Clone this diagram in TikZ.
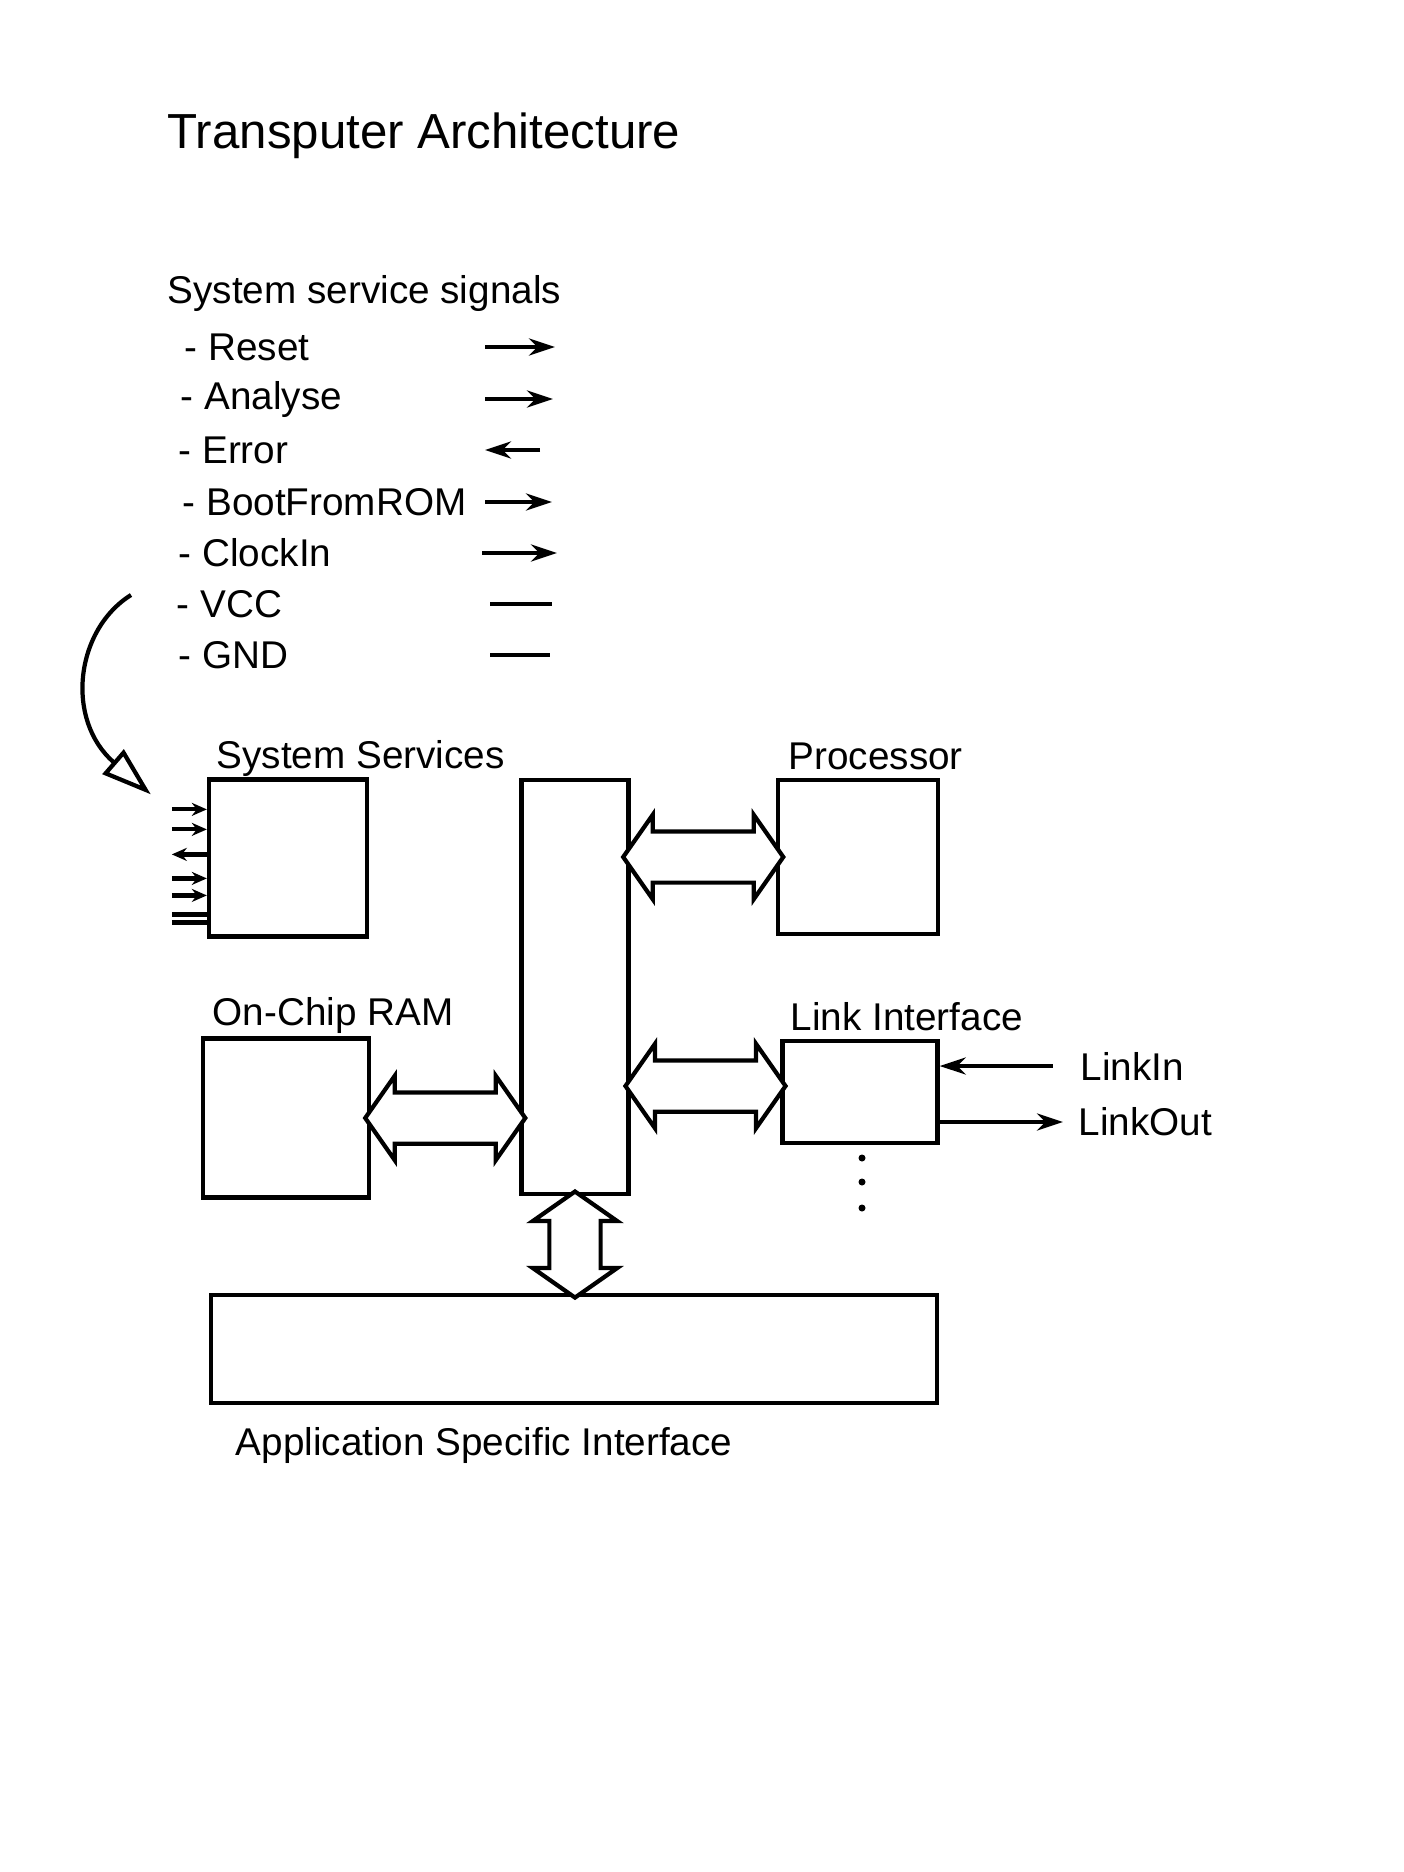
\documentclass[tikz,border=0pt]{standalone}
\usepackage{fontspec}
\setmainfont{Liberation Sans}
\usetikzlibrary{arrows.meta,positioning,calc,shapes.arrows}

\begin{document}
\begin{tikzpicture}[
    x=0.01cm, y=-0.01cm,
    box/.style={draw, line width=1.2pt, inner sep=0pt},
    block/.style={double arrow, draw, line width=1.2pt, fill=white, minimum width=0.8cm, double arrow head extend=0.165cm, double arrow tip angle=110, inner xsep=0pt, inner ysep=0.235cm},
    sigarrow/.style={-{Stealth[length=0.26cm, width=0.17cm]}, line width=1.2pt},
    pin/.style={-{Stealth[length=0.15cm, width=0.13cm]}, line width=1.2pt},
    lbl/.style={anchor=west, inner sep=0pt, font=\fontsize{11}{13}\selectfont},
    heading/.style={anchor=west, inner sep=0pt, font=\fontsize{14}{17}\selectfont}
]
    \fill[white] (0,0) rectangle (1404,1872);
    \useasboundingbox (0,0) rectangle (1404,1872);

    % Title
    \node[heading] (title) at (167,136) {Transputer Architecture};

    % Signal list
    \node[lbl] (signals) at (167,293) {System service signals};
    \node[lbl] (reset) at (184,347) {- Reset};
    \node[lbl] (analyse) at (180,399) {- Analyse};
    \node[lbl] (error) at (178,450) {- Error};
    \node[lbl] (boot) at (182,502) {- BootFromROM};
    \node[lbl] (clockin) at (178,553) {- ClockIn};
    \node[lbl] (vcc) at (176,604) {- VCC};
    \node[lbl] (gnd) at (178,655) {- GND};

    \draw[sigarrow] (485,0 |- reset) -- (555,0 |- reset);
    \draw[sigarrow] (485,0 |- analyse) -- (553,0 |- analyse);
    \draw[sigarrow] (540,0 |- error) -- (485,0 |- error);
    \draw[sigarrow] (485,0 |- boot) -- (552,0 |- boot);
    \draw[sigarrow] (482,0 |- clockin) -- (557,0 |- clockin);
    \draw[line width=1.2pt] (490,0 |- vcc) -- (552,0 |- vcc);
    \draw[line width=1.2pt] (490,0 |- gnd) -- (550,0 |- gnd);

    % Boxes
    \node[box, minimum width=1.58cm, minimum height=1.57cm] (sysserv) at (288,858) {};
    \node[box, minimum width=1.07cm, minimum height=4.14cm] (bus) at (575,987) {};
    \node[box, minimum width=1.60cm, minimum height=1.54cm] (proc) at (858,857) {};
    \node[box, minimum width=1.66cm, minimum height=1.59cm] (ram) at (286,1118) {};
    \node[box, minimum width=1.55cm, minimum height=1.02cm] (link) at (860,1092) {};
    \node[box, minimum width=7.26cm, minimum height=1.08cm] (asi) at (574,1349) {};

    % Box labels
    \node[lbl] (sysservlbl) at (216,758) {System Services};
    \node[lbl] (proclbl) at (788,756) {Processor};
    \node[lbl] (ramlbl) at (212,1015) {On-Chip RAM};
    \node[lbl] (linklbl) at (790,1017) {Link Interface};
    \node[lbl] (asilbl) at (235,1445) {Application Specific Interface};
    \node[lbl] (linkin) at (1080,1066) {LinkIn};
    \node[lbl] (linkout) at (1078,1122) {LinkOut};

    % Signals into System Services
    \coordinate (curvestart) at (131,595);
    \draw[line width=1.2pt, -{Triangle[open, length=0.5cm, width=0.32cm]}] (curvestart) .. controls (75,630) and (65,720) .. ([shift={(-0.56cm,-0.17cm)}]sysserv.north west);
    \draw[pin] ([shift={(-0.35cm,-0.32cm)}]sysserv.north west) -- ([yshift=-0.32cm]sysserv.north west);
    \draw[pin] ([shift={(-0.35cm,-0.52cm)}]sysserv.north west) -- ([yshift=-0.52cm]sysserv.north west);
    \draw[pin] ([yshift=-0.77cm]sysserv.north west) -- ([shift={(-0.35cm,-0.77cm)}]sysserv.north west);
    \draw[pin] ([shift={(-0.35cm,-1.01cm)}]sysserv.north west) -- ([yshift=-1.01cm]sysserv.north west);
    \draw[pin] ([shift={(-0.35cm,-1.18cm)}]sysserv.north west) -- ([yshift=-1.18cm]sysserv.north west);
    \draw[line width=1.2pt] ([shift={(-0.35cm,-1.37cm)}]sysserv.north west) -- ([yshift=-1.37cm]sysserv.north west);
    \draw[line width=1.2pt] ([shift={(-0.35cm,-1.45cm)}]sysserv.north west) -- ([yshift=-1.45cm]sysserv.north west);

    % Bus connections
    \node[block, minimum height=1.6cm] (busproc) at ($(bus.east |- proc.west)!0.5!(proc.west)$) {};
    \node[block, minimum height=1.6cm] (rambus) at ($(ram.east)!0.5!(bus.west |- ram.east)$) {};
    \node[block, minimum height=1.6cm] (buslink) at ($(bus.east |- 0,1086)!0.5!(link.west |- 0,1086)$) {};
    \node[block, minimum height=1.06cm, rotate=90] (busasi) at ($(bus.south)!0.5!(bus.south |- asi.north)$) {};

    % Link lines
    \draw[sigarrow] ([xshift=-0.27cm]linkin.west) -- (link.east |- linkin.west);
    \draw[sigarrow] (link.east |- linkout.west) -- ([xshift=-0.15cm]linkout.west);

    % More links
    \fill (862,1158) circle (0.035cm);
    \fill (862,1182) circle (0.035cm);
    \fill (862,1208) circle (0.035cm);
\end{tikzpicture}
\end{document}
